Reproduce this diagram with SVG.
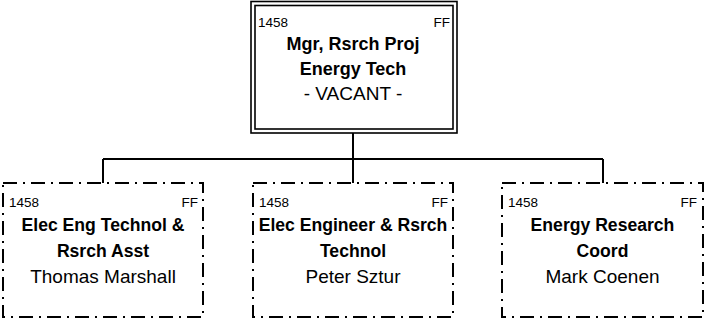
<svg xmlns="http://www.w3.org/2000/svg" width="707" height="320" viewBox="0 0 707 320">
<style>
.t{font-family:"Liberation Sans",Arial,sans-serif;fill:#000}
.s{font-size:13.5px}
.b{font-size:17.6px;font-weight:bold;text-anchor:middle}
.n{font-size:19px;text-anchor:middle}
.dbl{fill:#fff;stroke:#000;stroke-width:1.6}
.dsh{fill:#fff;stroke:#000;stroke-width:2;stroke-dasharray:14 6 2 6}
.c{fill:none;stroke:#000;stroke-width:2}
</style>
<rect width="707" height="320" fill="#fff"/>
<g id="connectors">
<path class="c" d="M353 133V159M103 159H603M103 159V183M353 159V183M603 159V183"/>
</g>
<g id="n0">
<rect class="dbl" x="251" y="1.5" width="206" height="131.5"/>
<rect class="dbl" x="255" y="5.5" width="198" height="123.5"/>
<text class="t s" x="258" y="26.5">1458</text>
<text class="t s" x="450" y="26.5" text-anchor="end">FF</text>
<text class="t b" x="353" y="50" style="font-size:18px">Mgr, Rsrch Proj</text>
<text class="t b" x="353" y="75" style="font-size:18px">Energy Tech</text>
<text class="t n" x="353" y="99.5">- VACANT -</text>
</g>
<g id="n1">
<rect class="dsh" x="3" y="183" width="200" height="134"/>
<text class="t s" x="9" y="207">1458</text>
<text class="t s" x="198" y="207" text-anchor="end">FF</text>
<text class="t b" x="103" y="231">Elec Eng Technol &amp;</text>
<text class="t b" x="103" y="257">Rsrch Asst</text>
<text class="t n" x="103" y="283">Thomas Marshall</text>
</g>
<g id="n2">
<rect class="dsh" x="253" y="183" width="200" height="134"/>
<text class="t s" x="259" y="207">1458</text>
<text class="t s" x="448" y="207" text-anchor="end">FF</text>
<text class="t b" x="353" y="231">Elec Engineer &amp; Rsrch</text>
<text class="t b" x="353" y="257">Technol</text>
<text class="t n" x="353" y="283">Peter Sztur</text>
</g>
<g id="n3">
<rect class="dsh" x="502" y="183" width="201" height="134"/>
<text class="t s" x="508" y="207">1458</text>
<text class="t s" x="697" y="207" text-anchor="end">FF</text>
<text class="t b" x="602.5" y="231">Energy Research</text>
<text class="t b" x="602.5" y="257">Coord</text>
<text class="t n" x="602.5" y="283">Mark Coenen</text>
</g>
</svg>
